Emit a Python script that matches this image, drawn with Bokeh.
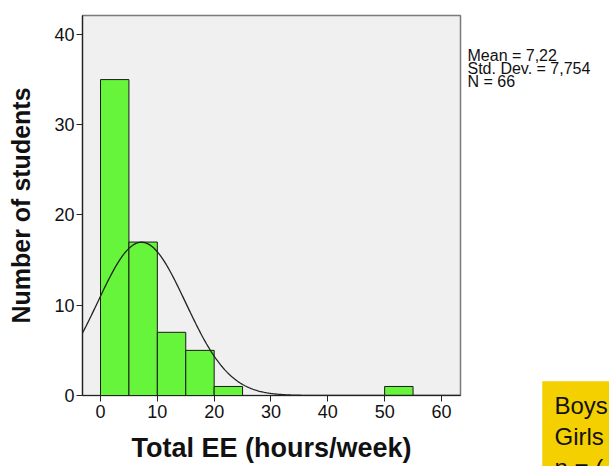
import numpy as np
from bokeh.plotting import figure
from bokeh.layouts import row, column
from bokeh.models import Range1d, FixedTicker
from bokeh.core.properties import value
from bokeh.embed import file_html
from bokeh.resources import INLINE

# Histogram of total extracurricular exercise (hours/week), 5-hour bins
bin_left = [0, 5, 10, 15, 20, 50]
bin_right = [5, 10, 15, 20, 25, 55]
counts = [35, 17, 7, 5, 1, 1]

# Summary statistics shown next to the chart
MEAN = 7.22
STD = 7.754
N = 66
BIN_WIDTH = 5

stats_lines = ["Mean = 7,22", "Std. Dev. = 7,754", "N = 66"]
note_lines = ["Boys", "Girls", "n = ("]

x_ticks = [0, 10, 20, 30, 40, 50, 60]
y_ticks = [0, 10, 20, 30, 40]

FONT = "Liberation Sans"
X0, X1 = -3.17, 63.35
Y0, Y1 = 0.0, 42.1
W, H = 609, 466
MAIN_W = 462

# ---- main histogram ----
p = figure(width=MAIN_W, height=H, x_range=Range1d(X0, X1), y_range=Range1d(Y0, Y1),
           output_backend="svg", toolbar_location=None,
           min_border_left=82, min_border_right=2,
           min_border_top=15, min_border_bottom=71)

p.background_fill_color = "#f0f0f0"
p.border_fill_color = "white"
p.outline_line_color = "#7a7a7a"
p.outline_line_width = 1.5
p.grid.visible = False

p.quad(left=bin_left, right=bin_right, bottom=0, top=counts,
       fill_color="#66f53a", line_color="#1a1a1a", line_width=1)

# fitted normal curve scaled to counts
xs = np.linspace(X0, X1, 400)
ys = N * BIN_WIDTH / (STD * np.sqrt(2 * np.pi)) * np.exp(-0.5 * ((xs - MEAN) / STD) ** 2)
p.line(xs, ys, line_color="#222222", line_width=1.3)

for ax in (p.xaxis[0], p.yaxis[0]):
    ax.axis_line_color = "#222222"
    ax.axis_line_width = 1.2
    ax.major_tick_line_color = "#222222"
    ax.major_tick_in = 0
    ax.major_tick_out = 6
    ax.minor_tick_line_color = None
    ax.major_label_text_font = FONT
    ax.major_label_text_font_size = "18px"
    ax.major_label_text_color = "#111111"
    ax.axis_label_text_font = FONT
    ax.axis_label_text_font_style = "bold"
    ax.axis_label_text_color = "#111111"

p.xaxis.ticker = FixedTicker(ticks=x_ticks)
p.yaxis.ticker = FixedTicker(ticks=y_ticks)
p.xaxis.axis_label = "Total EE (hours/week)"
p.yaxis.axis_label = "Number of students"
p.xaxis.axis_label_text_font_size = "27px"
p.yaxis.axis_label_text_font_size = "25px"
p.xaxis.major_label_standoff = 3
p.yaxis.major_label_standoff = 2
p.xaxis.axis_label_standoff = 12
p.yaxis.axis_label_standoff = 16

# ---- side panel with statistics and the note box (pixel coordinates) ----
SIDE_W = W - MAIN_W
s = figure(width=SIDE_W, height=H, x_range=Range1d(0, SIDE_W), y_range=Range1d(H, 0),
           output_backend="svg", toolbar_location=None,
           min_border=0, x_axis_type=None, y_axis_type=None)
s.outline_line_color = None
s.background_fill_color = "white"
s.border_fill_color = "white"
s.grid.visible = False

s.text(x=[5] * len(stats_lines), y=[55 + 13 * i for i in range(len(stats_lines))],
       text=stats_lines, text_font=value(FONT), text_font_size="16px",
       text_color="#111111", text_baseline="alphabetic", text_align="left")

s.quad(left=[80], right=[SIDE_W + 5], top=[381], bottom=[H + 5],
       fill_color="#f5d000", line_color="#f7dc40", line_width=1)
s.text(x=[92] * len(note_lines), y=[405 + 31 * i for i in range(len(note_lines))],
       text=note_lines, text_font=value(FONT), text_font_size="24px",
       text_color="#111111", text_baseline="alphabetic", text_align="left")

layout = row(column(p), column(s), spacing=0)
open("out.html", "w").write(file_html(layout, INLINE))
